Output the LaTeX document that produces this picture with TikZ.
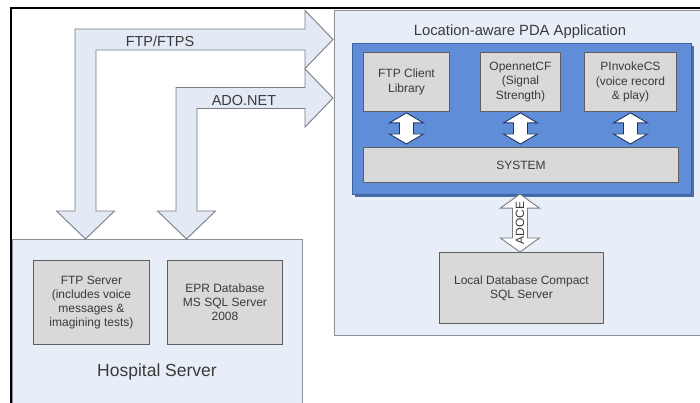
\documentclass[tikz,border=0pt]{standalone}
\usepackage{fontspec}
\setmainfont{Liberation Sans}
\usetikzlibrary{calc,shadows}

\definecolor{panelfill}{HTML}{E8EEF7}
\definecolor{panelline}{HTML}{8C8F96}
\definecolor{arrowfill}{HTML}{E3EAF5}
\definecolor{arrowline}{HTML}{7A7D84}
\definecolor{boxfill}{HTML}{D9D9D9}
\definecolor{boxline}{HTML}{5E5E5E}
\definecolor{bluefill}{HTML}{5F8DD8}
\definecolor{blueline}{HTML}{3E649F}
\definecolor{blueshadow}{HTML}{4A6EA8}
\definecolor{navy}{HTML}{1F3560}
\definecolor{txt}{HTML}{3A3A3A}

\newcommand{\boxfont}{\fontsize{12}{14.2}\selectfont}

% vertical double-headed block arrow: style, top tip, bottom tip,
% shaft half width, head half width, head length
\newcommand{\Varrow}[6]{%
  \draw[#1] let \p1=(#2), \p2=(#3) in
    (\p1) -- (\x1+#5pt,\y1-#6pt) -- (\x1+#4pt,\y1-#6pt)
    -- (\x1+#4pt,\y2+#6pt) -- (\x1+#5pt,\y2+#6pt) -- (\x1,\y2)
    -- (\x1-#5pt,\y2+#6pt) -- (\x1-#4pt,\y2+#6pt)
    -- (\x1-#4pt,\y1-#6pt) -- (\x1-#5pt,\y1-#6pt) -- cycle;}

% L-shaped block arrow with a head at each end: down tip, right tip,
% shaft half width, head half width, head length
\newcommand{\Larrow}[5]{%
  \draw[bigarrow] let \p1=(#1), \p2=(#2) in
    (\p1) -- (\x1-#4pt,\y1+#5pt) -- (\x1-#3pt,\y1+#5pt)
    -- (\x1-#3pt,\y2+#3pt) -- (\x2-#5pt,\y2+#3pt) -- (\x2-#5pt,\y2+#4pt)
    -- (\p2) -- (\x2-#5pt,\y2-#4pt) -- (\x2-#5pt,\y2-#3pt)
    -- (\x1+#3pt,\y2-#3pt) -- (\x1+#3pt,\y1+#5pt) -- (\x1+#4pt,\y1+#5pt)
    -- cycle;}

\begin{document}
\begin{tikzpicture}[x=1pt,y=-1pt,
  panel/.style={draw=panelline, fill=panelfill, line width=1pt,
    rectangle, inner sep=0pt, anchor=north west},
  graybox/.style={draw=boxline, fill=boxfill, line width=0.9pt,
    rectangle, inner sep=0pt, anchor=north west, align=center,
    font=\boxfont, text=txt},
  bluebox/.style={draw=blueline, fill=bluefill, line width=1.1pt,
    rectangle, inner sep=0pt, anchor=north west,
    drop shadow={shadow xshift=2.5pt, shadow yshift=-2.5pt,
      fill=blueshadow, opacity=1}},
  bigarrow/.style={draw=arrowline, fill=arrowfill, line width=0.9pt,
    line join=miter},
  syncarrow/.style={draw=navy, fill=white, line width=0.9pt,
    line join=miter},
  dbarrow/.style={draw=arrowline, fill=white, line width=0.9pt,
    line join=miter},
  lbl/.style={text=txt, inner sep=0pt}
]
\useasboundingbox (0,0) rectangle (700,403);
\clip (0,0) rectangle (700,403);
\fill[white] (0,0) rectangle (700,403);

% hospital side
\node[panel, minimum width=290, minimum height=200] (hosp) at (12,239) {};
\node[graybox, minimum width=116, minimum height=84] (ftps) at (33,260)
  {FTP Server\\(includes voice\\messages \&\\imagining tests)};
\node[graybox, minimum width=115, minimum height=84] (epr) at (167,260)
  {EPR Database\\MS SQL Server\\2008};
\node[lbl, font=\fontsize{17.5}{20}\selectfont] (hosplbl) at (157,372)
  {Hospital Server};

% PDA side
\node[panel, minimum width=380, minimum height=325] (pda) at (334,10) {};
\node[lbl, font=\fontsize{14.8}{17}\selectfont] (pdalbl) at (520,32)
  {Location-aware PDA Application};
\node[bluebox, minimum width=339, minimum height=151] (blue) at (352,43) {};
\node[graybox, minimum width=86, minimum height=59] (ftpc) at (363,52)
  {FTP Client\\Library};
\node[graybox, minimum width=80, minimum height=59] (ocf) at (480,52)
  {OpennetCF\\(Signal\\Strength)};
\node[graybox, minimum width=92, minimum height=59] (pinv) at (584,52)
  {PInvokeCS\\(voice record\\\& play)};
\node[graybox, minimum width=315, minimum height=35] (sys) at (363,147)
  {SYSTEM};
\node[graybox, minimum width=164, minimum height=71] (local) at (439,252)
  {Local Database Compact\\SQL Server};

% links inside the application
\foreach \m in {ftpc,ocf,pinv}{
  \coordinate (\m-top) at ($(\m.south)+(0,1)$);
  \coordinate (\m-bot) at ($(\m.south |- sys.north)+(0,-3)$);
  \Varrow{syncarrow}{\m-top}{\m-bot}{7}{17}{10}
}
\coordinate (ado-top) at ($(local.north |- blue.south)+(-1.5,-1)$);
\coordinate (ado-bot) at ($(local.north)+(-1.5,0)$);
\Varrow{dbarrow}{ado-top}{ado-bot}{7.5}{19.5}{14}
\node[lbl, rotate=90, font=\boxfont] (adoce) at ($(ado-top)!0.5!(ado-bot)$) {ADOCE};

% server <-> application channels
\coordinate (ftp-down) at ($(hosp.north west)+(73.5,0)$);
\coordinate (ftp-right) at ($(pda.north west)+(-1,29.5)$);
\coordinate (ado-down) at ($(hosp.north west)+(174.5,0)$);
\coordinate (ado-right) at ($(pda.north west)+(-1,88)$);
\Larrow{ftp-down}{ftp-right}{10.5}{29}{28}
\Larrow{ado-down}{ado-right}{10.5}{29}{28}
\node[lbl, font=\fontsize{14.5}{17}\selectfont] (ftplbl) at (160,41) {FTP/FTPS};
\node[lbl, font=\fontsize{14.5}{17}\selectfont] (adolbl) at (244,101) {ADO.NET};

% outer frame
\draw[black, line width=1.6pt] (11,420) -- (11,8) -- (720,8);
\end{tikzpicture}
\end{document}
